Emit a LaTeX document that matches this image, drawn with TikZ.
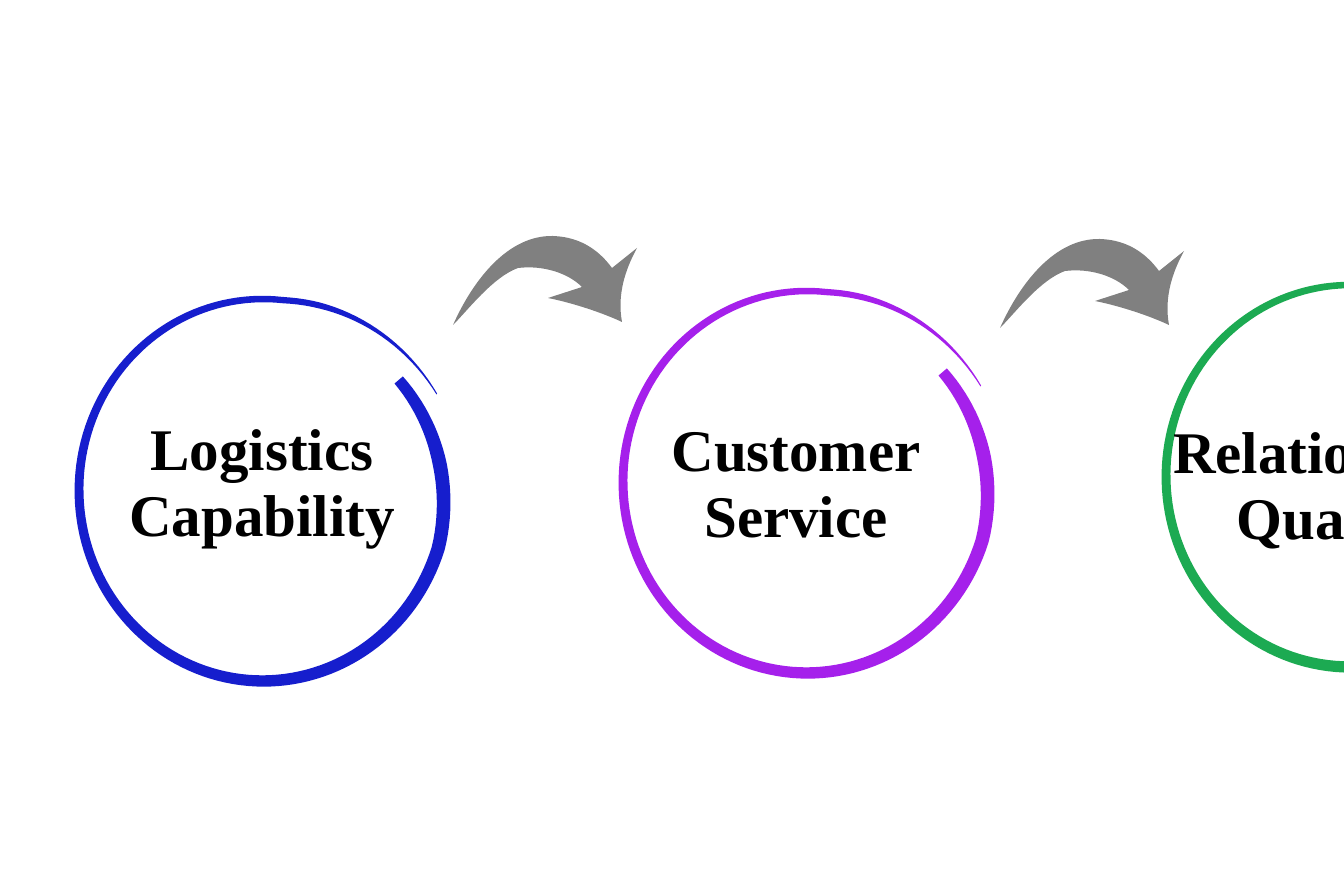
\documentclass[tikz,border=0pt]{standalone}
\usepackage{fontspec}
\setmainfont{Liberation Serif}
\definecolor{ringblue}{RGB}{22,30,205}
\definecolor{ringpurple}{RGB}{165,32,235}
\definecolor{ringgreen}{RGB}{28,170,82}
\definecolor{arrowgray}{RGB}{128,128,128}
\begin{document}
\begin{tikzpicture}[
          x=1pt, y=1pt,
          ring-label/.style = {align=center, inner sep=0pt, font=\fontsize{59}{66}\selectfont\bfseries},
          declare function = {
            rang(\t) = 38-370*\t;
            roff(\t) = \t<0.15 ? -12*(1-\t/0.15) : (\t>0.85 ? 13*(\t-0.85)/0.15 : 0);
            rwid(\t) = \t<0.08 ? 11+3*\t/0.08 : (\t<0.88 ? 14-8*(\t-0.08)/0.8 : 1+5*(1-\t)/0.12);
          },
          pics/ring/.style = {code={
            \fill[#1] plot[domain=0:1, samples=160, variable=\t]
                ({(184+roff(\t)+rwid(\t)/2)*cos(rang(\t))}, {(191+roff(\t)+rwid(\t)/2)*sin(rang(\t))})
              -- plot[domain=1:0, samples=160, variable=\t]
                ({(184+roff(\t)-rwid(\t)/2)*cos(rang(\t))}, {(191+roff(\t)-rwid(\t)/2)*sin(rang(\t))})
              -- cycle;
          }},
          pics/bentarrow/.style = {code={
            \fill[arrowgray] (0,0) .. controls (20,45) and (55,90) .. (100,89)
              .. controls (130,88) and (148,72) .. (159,57) -- (184,77)
              .. controls (172,55) and (164,30) .. (169,3)
              .. controls (150,12) and (120,22) .. (95,27) -- (129,38)
              .. controls (115,52) and (90,60) .. (65,57)
              .. controls (40,48) and (15,15) .. (0,0) -- cycle;
          }}
        ]
          \useasboundingbox (0,0) rectangle (1344,896);
          \clip (0,0) rectangle (1344,896);

          \coordinate (lc-c) at (263,406);
          \coordinate (cs-c) at (807,414);
          \coordinate (rq-c) at (1350,420);

          \pic at (lc-c) {ring=ringblue};
          \pic at (cs-c) {ring=ringpurple};
          \pic at (rq-c) {ring=ringgreen};

          \node[ring-label] (lc) at (262,407) {Logistics\\Capability};
          \node[ring-label] (cs) at (796,411) {Customer\\Service};
          \node[ring-label] (rq) at (1332,404) {Relationship\\Quality};

          \pic at (453,571) {bentarrow};
          \pic at (1000,568) {bentarrow};
        \end{tikzpicture}
\end{document}
